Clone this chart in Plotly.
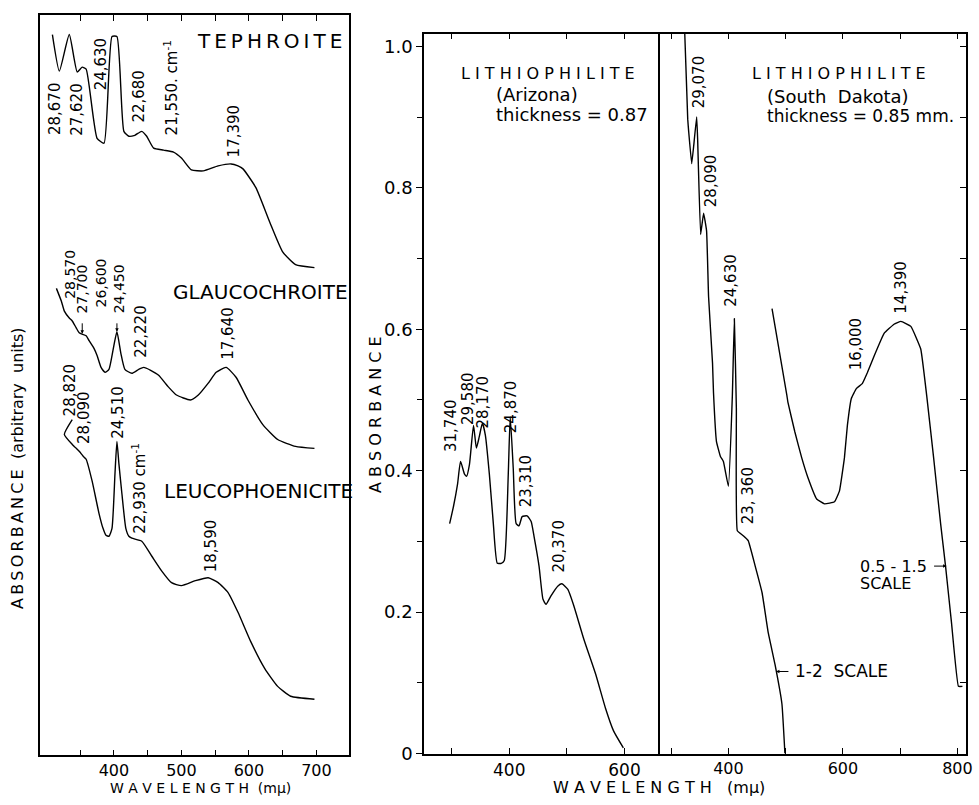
import plotly.graph_objects as go

# ---------------- data ----------------
# Left panel: wavelength (m\u03bc) and absorbance (arbitrary units, offset traces)
teph_wl = [308.8, 319.1, 333.8, 345.6, 352.9, 358.8, 375.0, 385.3, 397.1, 404.4, 414.7, 422.1,
           430.9, 441.2, 448.5, 458.8, 473.5, 488.2, 500.0, 514.7, 532.4, 554.4, 573.5, 583.8,
           591.2, 610.3, 630.9, 650.0, 669.1, 697.1]
teph_abs = [7.30, 6.93, 7.30, 6.92, 6.97, 6.95, 6.25, 6.20, 7.28, 7.28, 6.32, 6.27,
            6.28, 6.32, 6.27, 6.15, 6.13, 6.11, 6.05, 5.93, 5.92, 5.97, 5.99, 5.97,
            5.94, 5.75, 5.40, 5.10, 4.97, 4.94]

glau_wl = [314.7, 322.1, 326.5, 333.8, 338.2, 344.1, 348.5, 358.8, 363.2, 370.6, 375.0, 380.9,
           386.8, 392.6, 398.5, 404.4, 410.3, 416.2, 426.5, 436.8, 444.1, 454.4, 466.2, 480.9,
           492.6, 513.2, 525.0, 539.7, 551.5, 566.2, 580.9, 598.5, 620.6, 642.6, 669.1, 697.1]
glau_abs = [4.73, 4.60, 4.50, 4.43, 4.40, 4.33, 4.28, 4.25, 4.20, 4.12, 4.05, 3.93,
            3.88, 3.91, 4.10, 4.29, 4.07, 3.91, 3.87, 3.91, 3.93, 3.90, 3.85, 3.73,
            3.65, 3.60, 3.65, 3.77, 3.88, 3.93, 3.83, 3.60, 3.35, 3.20, 3.13, 3.11]

leuc_wl = [338.2, 326.5, 338.2, 342.6, 348.5, 354.4, 358.8, 367.6, 377.9, 383.8, 388.2, 392.6,
           397.1, 401.5, 404.4, 407.4, 411.8, 417.6, 422.1, 426.5, 441.2, 455.9, 470.6, 485.3,
           500.0, 520.6, 539.7, 554.4, 569.1, 583.8, 602.9, 623.5, 642.6, 661.8, 697.1]
leuc_abs = [3.40, 3.25, 3.15, 3.12, 3.08, 3.03, 3.00, 2.78, 2.45, 2.30, 2.23, 2.22,
            2.30, 2.85, 3.18, 2.95, 2.65, 2.30, 2.22, 2.20, 2.17, 2.02, 1.87, 1.75,
            1.72, 1.77, 1.80, 1.75, 1.65, 1.45, 1.15, 0.88, 0.70, 0.60, 0.57]

# Right panel: Lithiophilite (Arizona)
ariz_wl = [296.6, 303.4, 310.3, 315.5, 322.4, 325.9, 331.0, 338.0, 343.0, 348.0, 353.4, 358.6,
           365.5, 372.4, 379.3, 386.2, 391.4, 398.3, 401.7, 406.9, 412.0, 417.0, 422.4, 431.0,
           438.0, 443.0, 451.7, 458.6, 463.8, 472.4, 484.5, 491.4, 501.7, 512.0, 529.3, 550.0,
           567.0, 581.0, 598.0]
ariz_abs = [0.325, 0.350, 0.381, 0.413, 0.395, 0.392, 0.409, 0.464, 0.432, 0.448, 0.467, 0.450,
            0.395, 0.325, 0.269, 0.269, 0.273, 0.395, 0.476, 0.404, 0.325, 0.322, 0.335, 0.336,
            0.328, 0.307, 0.265, 0.218, 0.211, 0.223, 0.237, 0.240, 0.232, 0.209, 0.162, 0.112,
            0.064, 0.032, 0.008]

# Right panel: Lithiophilite (South Dakota), 1-2 scale
sd12_wl = [323.8, 329.0, 330.7, 335.9, 339.4, 344.6, 346.3, 351.5, 356.7, 361.9, 365.4, 372.3,
           374.0, 379.2, 386.1, 391.3, 400.0, 406.9, 410.4, 413.9, 415.6, 426.0, 434.6, 446.8,
           458.9, 469.3, 481.4, 493.5, 498.7]
sd12_abs = [1.018, 0.897, 0.879, 0.834, 0.859, 0.900, 0.869, 0.734, 0.764, 0.739, 0.646, 0.552,
            0.510, 0.441, 0.420, 0.413, 0.378, 0.506, 0.615, 0.488, 0.315, 0.308, 0.301, 0.265,
            0.227, 0.172, 0.126, 0.070, 0.0]

# Right panel: Lithiophilite (South Dakota), 0.5-1.5 scale
sd05_wl = [476.2, 502.2, 503.9, 516.0, 528.1, 538.5, 554.1, 568.0, 585.3, 593.9, 602.6, 607.8,
           614.7, 623.4, 633.8, 642.4, 654.5, 671.9, 689.2, 701.3, 718.6, 735.9, 746.3, 758.4,
           770.6, 779.2, 789.6, 801.7, 808.7]
sd05_abs = [0.629, 0.506, 0.497, 0.455, 0.418, 0.391, 0.360, 0.353, 0.356, 0.371, 0.418, 0.464,
            0.502, 0.516, 0.523, 0.538, 0.562, 0.594, 0.607, 0.611, 0.604, 0.572, 0.506, 0.418,
            0.325, 0.265, 0.185, 0.095, 0.095]

left_tickvals = [350, 400, 450, 500, 550, 600, 650, 700]
left_ticktext = ["", "400", "", "500", "", "600", "", "700"]
ariz_tickvals = [300, 400, 500, 600]
ariz_ticktext = ["", "400", "", "600"]
sd_tickvals = [300, 400, 500, 600, 700, 800]
sd_ticktext = ["", "400", "", "600", "", "800"]
abs_tickvals = [0, 0.2, 0.4, 0.6, 0.8, 1.0]
abs_ticktext = ["0", "0.2", "0.4", "0.6", "0.8", "1.0"]

# ---------------- figure ----------------
FONT = "DejaVu Sans"
LINE = dict(color="black", width=1.4, shape="spline", smoothing=0.5)
LINE_SD = dict(color="black", width=1.4, shape="spline", smoothing=0.3)

fig = go.Figure()
for wl, ab in [(teph_wl, teph_abs), (glau_wl, glau_abs), (leuc_wl, leuc_abs)]:
    fig.add_trace(go.Scatter(x=wl, y=ab, mode="lines", line=LINE, xaxis="x", yaxis="y",
                             showlegend=False, hoverinfo="skip"))
fig.add_trace(go.Scatter(x=ariz_wl, y=ariz_abs, mode="lines", line=LINE, xaxis="x2", yaxis="y2",
                         showlegend=False, hoverinfo="skip"))
for wl, ab in [(sd12_wl, sd12_abs), (sd05_wl, sd05_abs)]:
    fig.add_trace(go.Scatter(x=wl, y=ab, mode="lines", line=LINE_SD,
                             xaxis="x3", yaxis="y3", showlegend=False, hoverinfo="skip"))

W, H = 979, 805
def px(x): return x / W
def py(y): return 1 - y / H

axline = dict(showline=True, linecolor="black", linewidth=1.5, showgrid=False, zeroline=False)
tickfont = dict(family=FONT, size=16, color="black")
tickfont_r = dict(family=FONT, size=17, color="black")

fig.update_layout(
    width=W, height=H, margin=dict(l=0, r=0, t=0, b=0),
    paper_bgcolor="white", plot_bgcolor="white",
    xaxis=dict(domain=[px(40), px(352)], range=[290, 749], anchor="y",
               tickvals=left_tickvals, ticktext=left_ticktext, ticks="inside", ticklen=6,
               tickcolor="black", mirror="ticks", tickfont=tickfont, **axline),
    yaxis=dict(domain=[py(765), py(15)], range=[0, 7.5], anchor="x",
               showticklabels=False, ticks="", mirror=True, **axline),
    xaxis2=dict(domain=[px(427), px(665)], range=[252, 662], anchor="y2",
                tickvals=ariz_tickvals, ticktext=ariz_ticktext, ticks="inside", ticklen=6,
                tickcolor="black", mirror="ticks", tickfont=tickfont_r, **axline),
    yaxis2=dict(domain=[py(763), py(34)], range=[0, 1.018], anchor="x2",
                tickvals=abs_tickvals, ticktext=abs_ticktext, ticks="outside", ticklen=6,
                tickcolor="black", mirror=False,
                minor=dict(dtick=0.1, ticks="outside", ticklen=5, tickcolor="black"),
                tickfont=dict(family=FONT, size=18, color="black"), **axline),
    xaxis3=dict(domain=[px(665), px(973)], range=[281, 815], anchor="y3",
                tickvals=sd_tickvals, ticktext=sd_ticktext, ticks="inside", ticklen=6,
                tickcolor="black", mirror="ticks", tickfont=dict(family=FONT, size=16, color="black"),
                ticklabeloverflow="allow", **axline),
    yaxis3=dict(domain=[py(763), py(34)], range=[0, 1.018], anchor="x3", side="right",
                dtick=0.1, tick0=0, ticks="inside", ticklen=6, tickcolor="black",
                showticklabels=False, mirror=True, **axline),
)

ann = []
def rot(text, x, y, xref, yref, size=15):
    ann.append(dict(text=text, x=x, y=y, xref=xref, yref=yref, textangle=-90, showarrow=False,
                    xanchor="center", yanchor="middle",
                    font=dict(family=FONT, size=size, color="black")))
def txt(text, x, y, xref, yref, size=18, xanchor="center"):
    ann.append(dict(text=text, x=x, y=y, xref=xref, yref=yref, showarrow=False, xanchor=xanchor,
                    yanchor="middle", font=dict(family=FONT, size=size, color="black")))
def arrow(x, y, xref, yref, ax, ay):
    ann.append(dict(text="", x=x, y=y, xref=xref, yref=yref, showarrow=True, ax=ax, ay=ay,
                    arrowhead=2, arrowsize=0.7, arrowwidth=1, arrowcolor="black"))

TS = "\u2009"  # thin space used as letter spacing

# Left panel labels
rot("28,670", 311.8, 6.55, "x", "y")
rot("27,620", 344.0, 6.54, "x", "y")
rot("24,630", 381.0, 7.00, "x", "y")
rot("22,680", 436.8, 6.68, "x", "y")
rot("21,550. cm<sup>-1</sup>", 483.8, 6.76, "x", "y")
rot("17,390", 578.0, 6.32, "x", "y")
txt(TS.join("TEPHROITE"), 630.9, 7.23, "x", "y", size=20)
rot("28,570", 333.8, 4.87, "x", "y", size=14)
rot("27,700", 353.0, 4.72, "x", "y", size=14)
rot("26,600", 380.9, 4.78, "x", "y", size=14)
rot("24,450", 407.4, 4.73, "x", "y", size=14)
arrow(353.0, 4.27, "x", "y", 0, -12)
arrow(404.4, 4.29, "x", "y", 0, -10)
rot("22,220", 440.0, 4.30, "x", "y")
rot("17,640", 569.0, 4.27, "x", "y")
txt("GLAUCOCHROITE", 617.6, 4.69, "x", "y", size=20)
rot("28,820", 335.3, 3.70, "x", "y")
rot("28,090", 355.9, 3.42, "x", "y")
rot("24,510", 405.9, 3.48, "x", "y")
rot("22,930 cm<sup>-1</sup>", 436.8, 2.71, "x", "y")
rot("18,590", 544.0, 2.12, "x", "y")
txt("LEUCOPHOENICITE", 614.7, 2.68, "x", "y", size=20)

# Arizona labels
rot("31,740", 300.0, 0.464, "x2", "y2")
rot("29,580", 329.3, 0.502, "x2", "y2")
rot("28,170", 355.2, 0.497, "x2", "y2")
rot("24,870", 403.4, 0.490, "x2", "y2")
rot("23,310", 429.3, 0.385, "x2", "y2")
rot("20,370", 486.2, 0.294, "x2", "y2")
txt("L I T H I O P H I L I T E", 467.0, 0.962, "x2", "y2", size=16)
txt("(Arizona)", 374.0, 0.932, "x2", "y2", size=18, xanchor="left")
txt("thickness = 0.87", 374.0, 0.904, "x2", "y2", size=18, xanchor="left")

# South Dakota labels
rot("29,070", 348.0, 0.950, "x3", "y3")
rot("28,090", 368.8, 0.810, "x3", "y3")
rot("24,630", 405.2, 0.669, "x3", "y3")
rot("23, 360", 434.6, 0.364, "x3", "y3")
rot("16,000", 623.4, 0.579, "x3", "y3")
rot("14,390", 701.3, 0.660, "x3", "y3")
txt("L I T H I O P H I L I T E", 594.0, 0.962, "x3", "y3", size=16)
txt("(South  Dakota)", 464.0, 0.929, "x3", "y3", size=18, xanchor="left")
txt("thickness = 0.85 mm.", 464.0, 0.901, "x3", "y3", size=17, xanchor="left")
txt("0.5 - 1.5", 626.0, 0.265, "x3", "y3", size=16, xanchor="left")
txt("SCALE", 626.0, 0.240, "x3", "y3", size=16, xanchor="left")
txt("1-2  SCALE", 512.6, 0.116, "x3", "y3", size=17, xanchor="left")
arrow(781.0, 0.265, "x3", "y3", -14, 0)
arrow(483.0, 0.116, "x3", "y3", 14, 0)

# Axis titles
def ptxt(text, x, y, size, angle=0):
    ann.append(dict(text=text, x=px(x), y=py(y), xref="paper", yref="paper", textangle=angle,
                    showarrow=False, xanchor="center", yanchor="middle",
                    font=dict(family=FONT, size=size, color="black")))

ptxt(TS.join("ABSORBANCE") + "  (arbitrary  units)", 17, 474, 16, -90)
ptxt("A B S O R B A N C E", 378, 420, 16, -90)
ptxt("W A V E L E N G T H  (m\u03bc)", 202, 798, 14)
ptxt("W A V E L E N G T H   (m\u03bc)", 664, 797, 16)

fig.update_layout(annotations=ann)
fig.write_html("out.html", config={"displayModeBar": False},
               post_script="document.body.style.margin='0px';"
                           "document.documentElement.style.overflow='hidden';"
                           "document.body.style.overflow='hidden';")
